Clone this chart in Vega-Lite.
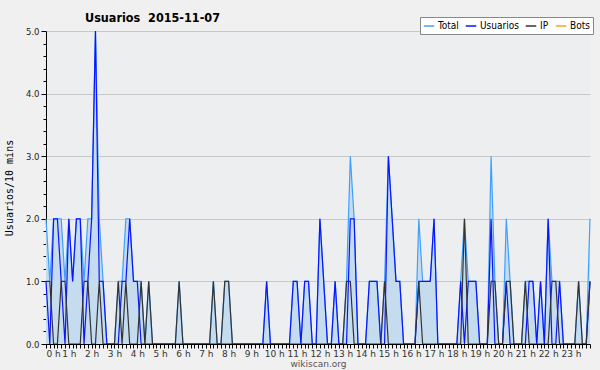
{
"$schema": "https://vega.github.io/schema/vega-lite/v6.json",
"width": 544, "height": 313,
"autosize": {"type": "none"},
"padding": {"left": 46, "top": 31, "right": 10, "bottom": 26},
"background": "#f0f0f0",
"config": {"view": {"fill": "#edeef0", "stroke": null}, "font": "DejaVu Sans"},
"title": {"text": "Usuarios\u00a0 2015-11-07", "anchor": "start", "frame": "group", "dx": 39, "dy": 17, "offset": 9, "font": "DejaVu Sans Condensed", "fontSize": 12.5, "fontWeight": "bold", "color": "#000"},
"data": {"values": [
{"t":0,"Total":2,"Usuarios":1,"IP":1,"Bots":0},{"t":10,"Total":1,"Usuarios":0,"IP":1,"Bots":0},{"t":20,"Total":2,"Usuarios":2,"IP":0,"Bots":0},{"t":30,"Total":2,"Usuarios":2,"IP":0,"Bots":0},{"t":40,"Total":2,"Usuarios":1,"IP":1,"Bots":0},{"t":50,"Total":1,"Usuarios":0,"IP":1,"Bots":0},{"t":60,"Total":2,"Usuarios":2,"IP":0,"Bots":0},{"t":70,"Total":1,"Usuarios":1,"IP":0,"Bots":0},{"t":80,"Total":2,"Usuarios":2,"IP":0,"Bots":0},{"t":90,"Total":2,"Usuarios":2,"IP":0,"Bots":0},
{"t":100,"Total":1,"Usuarios":0,"IP":1,"Bots":0},{"t":110,"Total":2,"Usuarios":1,"IP":1,"Bots":0},{"t":120,"Total":2,"Usuarios":2,"IP":0,"Bots":0},{"t":130,"Total":5,"Usuarios":5,"IP":0,"Bots":0},{"t":140,"Total":2,"Usuarios":1,"IP":1,"Bots":0},{"t":150,"Total":1,"Usuarios":1,"IP":0,"Bots":0},{"t":160,"Total":0,"Usuarios":0,"IP":0,"Bots":0},{"t":170,"Total":0,"Usuarios":0,"IP":0,"Bots":0},{"t":180,"Total":0,"Usuarios":0,"IP":0,"Bots":0},{"t":190,"Total":1,"Usuarios":0,"IP":1,"Bots":0},
{"t":200,"Total":1,"Usuarios":1,"IP":0,"Bots":0},{"t":210,"Total":2,"Usuarios":1,"IP":1,"Bots":0},{"t":220,"Total":2,"Usuarios":2,"IP":0,"Bots":0},{"t":230,"Total":1,"Usuarios":1,"IP":0,"Bots":0},{"t":240,"Total":1,"Usuarios":1,"IP":0,"Bots":0},{"t":250,"Total":1,"Usuarios":0,"IP":1,"Bots":0},{"t":260,"Total":0,"Usuarios":0,"IP":0,"Bots":0},{"t":270,"Total":1,"Usuarios":0,"IP":1,"Bots":0},{"t":280,"Total":0,"Usuarios":0,"IP":0,"Bots":0},{"t":290,"Total":0,"Usuarios":0,"IP":0,"Bots":0},
{"t":300,"Total":0,"Usuarios":0,"IP":0,"Bots":0},{"t":310,"Total":0,"Usuarios":0,"IP":0,"Bots":0},{"t":320,"Total":0,"Usuarios":0,"IP":0,"Bots":0},{"t":330,"Total":0,"Usuarios":0,"IP":0,"Bots":0},{"t":340,"Total":0,"Usuarios":0,"IP":0,"Bots":0},{"t":350,"Total":1,"Usuarios":0,"IP":1,"Bots":0},{"t":360,"Total":0,"Usuarios":0,"IP":0,"Bots":0},{"t":370,"Total":0,"Usuarios":0,"IP":0,"Bots":0},{"t":380,"Total":0,"Usuarios":0,"IP":0,"Bots":0},{"t":390,"Total":0,"Usuarios":0,"IP":0,"Bots":0},
{"t":400,"Total":0,"Usuarios":0,"IP":0,"Bots":0},{"t":410,"Total":0,"Usuarios":0,"IP":0,"Bots":0},{"t":420,"Total":0,"Usuarios":0,"IP":0,"Bots":0},{"t":430,"Total":0,"Usuarios":0,"IP":0,"Bots":0},{"t":440,"Total":1,"Usuarios":0,"IP":1,"Bots":0},{"t":450,"Total":0,"Usuarios":0,"IP":0,"Bots":0},{"t":460,"Total":0,"Usuarios":0,"IP":0,"Bots":0},{"t":470,"Total":1,"Usuarios":0,"IP":1,"Bots":0},{"t":480,"Total":1,"Usuarios":0,"IP":1,"Bots":0},{"t":490,"Total":0,"Usuarios":0,"IP":0,"Bots":0},
{"t":500,"Total":0,"Usuarios":0,"IP":0,"Bots":0},{"t":510,"Total":0,"Usuarios":0,"IP":0,"Bots":0},{"t":520,"Total":0,"Usuarios":0,"IP":0,"Bots":0},{"t":530,"Total":0,"Usuarios":0,"IP":0,"Bots":0},{"t":540,"Total":0,"Usuarios":0,"IP":0,"Bots":0},{"t":550,"Total":0,"Usuarios":0,"IP":0,"Bots":0},{"t":560,"Total":0,"Usuarios":0,"IP":0,"Bots":0},{"t":570,"Total":0,"Usuarios":0,"IP":0,"Bots":0},{"t":580,"Total":1,"Usuarios":1,"IP":0,"Bots":0},{"t":590,"Total":0,"Usuarios":0,"IP":0,"Bots":0},
{"t":600,"Total":0,"Usuarios":0,"IP":0,"Bots":0},{"t":610,"Total":0,"Usuarios":0,"IP":0,"Bots":0},{"t":620,"Total":0,"Usuarios":0,"IP":0,"Bots":0},{"t":630,"Total":0,"Usuarios":0,"IP":0,"Bots":0},{"t":640,"Total":0,"Usuarios":0,"IP":0,"Bots":0},{"t":650,"Total":1,"Usuarios":1,"IP":0,"Bots":0},{"t":660,"Total":1,"Usuarios":1,"IP":0,"Bots":0},{"t":670,"Total":0,"Usuarios":0,"IP":0,"Bots":0},{"t":680,"Total":1,"Usuarios":1,"IP":0,"Bots":0},{"t":690,"Total":1,"Usuarios":1,"IP":0,"Bots":0},
{"t":700,"Total":0,"Usuarios":0,"IP":0,"Bots":0},{"t":710,"Total":0,"Usuarios":0,"IP":0,"Bots":0},{"t":720,"Total":2,"Usuarios":2,"IP":0,"Bots":0},{"t":730,"Total":1,"Usuarios":1,"IP":0,"Bots":0},{"t":740,"Total":0,"Usuarios":0,"IP":0,"Bots":0},{"t":750,"Total":0,"Usuarios":0,"IP":0,"Bots":0},{"t":760,"Total":1,"Usuarios":1,"IP":0,"Bots":0},{"t":770,"Total":0,"Usuarios":0,"IP":0,"Bots":0},{"t":780,"Total":0,"Usuarios":0,"IP":0,"Bots":0},{"t":790,"Total":1,"Usuarios":0,"IP":1,"Bots":0},
{"t":800,"Total":3,"Usuarios":2,"IP":1,"Bots":0},{"t":810,"Total":2,"Usuarios":2,"IP":0,"Bots":0},{"t":820,"Total":0,"Usuarios":0,"IP":0,"Bots":0},{"t":830,"Total":0,"Usuarios":0,"IP":0,"Bots":0},{"t":840,"Total":0,"Usuarios":0,"IP":0,"Bots":0},{"t":850,"Total":1,"Usuarios":1,"IP":0,"Bots":0},{"t":860,"Total":1,"Usuarios":1,"IP":0,"Bots":0},{"t":870,"Total":1,"Usuarios":1,"IP":0,"Bots":0},{"t":880,"Total":0,"Usuarios":0,"IP":0,"Bots":0},{"t":890,"Total":1,"Usuarios":0,"IP":1,"Bots":0},
{"t":900,"Total":3,"Usuarios":3,"IP":0,"Bots":0},{"t":910,"Total":2,"Usuarios":2,"IP":0,"Bots":0},{"t":920,"Total":1,"Usuarios":1,"IP":0,"Bots":0},{"t":930,"Total":1,"Usuarios":1,"IP":0,"Bots":0},{"t":940,"Total":0,"Usuarios":0,"IP":0,"Bots":0},{"t":950,"Total":0,"Usuarios":0,"IP":0,"Bots":0},{"t":960,"Total":0,"Usuarios":0,"IP":0,"Bots":0},{"t":970,"Total":0,"Usuarios":0,"IP":0,"Bots":0},{"t":980,"Total":2,"Usuarios":1,"IP":1,"Bots":0},{"t":990,"Total":1,"Usuarios":1,"IP":0,"Bots":0},
{"t":1000,"Total":1,"Usuarios":1,"IP":0,"Bots":0},{"t":1010,"Total":1,"Usuarios":1,"IP":0,"Bots":0},{"t":1020,"Total":2,"Usuarios":2,"IP":0,"Bots":0},{"t":1030,"Total":0,"Usuarios":0,"IP":0,"Bots":0},{"t":1040,"Total":0,"Usuarios":0,"IP":0,"Bots":0},{"t":1050,"Total":0,"Usuarios":0,"IP":0,"Bots":0},{"t":1060,"Total":0,"Usuarios":0,"IP":0,"Bots":0},{"t":1070,"Total":0,"Usuarios":0,"IP":0,"Bots":0},{"t":1080,"Total":0,"Usuarios":0,"IP":0,"Bots":0},{"t":1090,"Total":1,"Usuarios":1,"IP":0,"Bots":0},
{"t":1100,"Total":2,"Usuarios":0,"IP":2,"Bots":0},{"t":1110,"Total":1,"Usuarios":1,"IP":0,"Bots":0},{"t":1120,"Total":1,"Usuarios":1,"IP":0,"Bots":0},{"t":1130,"Total":1,"Usuarios":1,"IP":0,"Bots":0},{"t":1140,"Total":0,"Usuarios":0,"IP":0,"Bots":0},{"t":1150,"Total":0,"Usuarios":0,"IP":0,"Bots":0},{"t":1160,"Total":0,"Usuarios":0,"IP":0,"Bots":0},{"t":1170,"Total":3,"Usuarios":2,"IP":1,"Bots":0},{"t":1180,"Total":1,"Usuarios":0,"IP":1,"Bots":0},{"t":1190,"Total":0,"Usuarios":0,"IP":0,"Bots":0},
{"t":1200,"Total":0,"Usuarios":0,"IP":0,"Bots":0},{"t":1210,"Total":2,"Usuarios":1,"IP":1,"Bots":0},{"t":1220,"Total":1,"Usuarios":0,"IP":1,"Bots":0},{"t":1230,"Total":0,"Usuarios":0,"IP":0,"Bots":0},{"t":1240,"Total":0,"Usuarios":0,"IP":0,"Bots":0},{"t":1250,"Total":0,"Usuarios":0,"IP":0,"Bots":0},{"t":1260,"Total":1,"Usuarios":0,"IP":1,"Bots":0},{"t":1270,"Total":1,"Usuarios":1,"IP":0,"Bots":0},{"t":1280,"Total":1,"Usuarios":1,"IP":0,"Bots":0},{"t":1290,"Total":0,"Usuarios":0,"IP":0,"Bots":0},
{"t":1300,"Total":1,"Usuarios":1,"IP":0,"Bots":0},{"t":1310,"Total":0,"Usuarios":0,"IP":0,"Bots":0},{"t":1320,"Total":2,"Usuarios":2,"IP":0,"Bots":0},{"t":1330,"Total":1,"Usuarios":0,"IP":1,"Bots":0},{"t":1340,"Total":1,"Usuarios":0,"IP":1,"Bots":0},{"t":1350,"Total":1,"Usuarios":1,"IP":0,"Bots":0},{"t":1360,"Total":0,"Usuarios":0,"IP":0,"Bots":0},{"t":1370,"Total":0,"Usuarios":0,"IP":0,"Bots":0},{"t":1380,"Total":0,"Usuarios":0,"IP":0,"Bots":0},{"t":1390,"Total":0,"Usuarios":0,"IP":0,"Bots":0},
{"t":1400,"Total":1,"Usuarios":0,"IP":1,"Bots":0},{"t":1410,"Total":0,"Usuarios":0,"IP":0,"Bots":0},{"t":1420,"Total":0,"Usuarios":0,"IP":0,"Bots":0},{"t":1430,"Total":2,"Usuarios":1,"IP":1,"Bots":0}
]},
"transform": [{"fold": ["Total", "Usuarios", "IP", "Bots"], "as": ["serie", "v"]}],
"encoding": {
  "x": {"field": "t", "type": "quantitative", "scale": {"domain": [0, 1430], "nice": false, "zero": false},
    "axis": {"values": [0,10,20,30,40,50,60,70,80,90,100,110,120,130,140,150,160,170,180,190,200,210,220,230,240,250,260,270,280,290,300,310,320,330,340,350,360,370,380,390,400,410,420,430,440,450,460,470,480,490,500,510,520,530,540,550,560,570,580,590,600,610,620,630,640,650,660,670,680,690,700,710,720,730,740,750,760,770,780,790,800,810,820,830,840,850,860,870,880,890,900,910,920,930,940,950,960,970,980,990,1000,1010,1020,1030,1040,1050,1060,1070,1080,1090,1100,1110,1120,1130,1140,1150,1160,1170,1180,1190,1200,1210,1220,1230,1240,1250,1260,1270,1280,1290,1300,1310,1320,1330,1340,1350,1360,1370,1380,1390,1400,1410,1420,1430],
      "labelExpr": "datum.value % 60 == 0 ? (datum.value / 60) + ' h' : ''",
      "labelOverlap": false, "labelBound": false, "labelFontSize": 9, "labelColor": "#333", "labelPadding": 1,
      "tickSize": 4, "tickColor": "#000", "domainColor": "#000", "grid": false, "zindex": 1,
      "title": "wikiscan.org", "titleFontSize": 9, "titleFontWeight": "normal", "titleColor": "#555", "titlePadding": 1}
  },
  "y": {"field": "v", "type": "quantitative", "scale": {"domain": [0, 5], "nice": false},
     "axis": {"values": [0,0.2,0.4,0.6,0.8,1,1.2,1.4,1.6,1.8,2,2.2,2.4,2.6,2.8,3,3.2,3.4,3.6,3.8,4,4.2,4.4,4.6,4.8,5],
       "labelExpr": "datum.value % 1 == 0 ? format(datum.value, '.1f') : ''",
       "labelOverlap": false, "labelBound": false,
       "labelFontSize": 8.5, "labelColor": "#222", "labelPadding": 2,
       "tickSize": {"condition": {"test": "datum.value % 1 == 0", "value": 5}, "value": 3},
       "tickColor": "#000", "domainColor": "#000",
       "grid": true, "gridColor": "#c8c8c8",
       "gridOpacity": {"condition": {"test": "datum.value % 1 == 0 && datum.value > 0", "value": 1}, "value": 0},
       "title": "Usuarios/10 mins", "titleFontSize": 10, "titleFontWeight": "normal", "titleFont": "DejaVu Sans Mono", "titleColor": "#000", "titlePadding": 11}}
},
"layer": [
  {"transform": [{"filter": "datum.serie == 'Bots'"}],
   "mark": {"type": "line", "strokeWidth": 1.2},
   "encoding": {"color": {"field": "serie", "type": "nominal",
     "scale": {"domain": ["Total", "Usuarios", "IP", "Bots"], "range": ["#40a0ff", "#0a14ff", "#333333", "#ffa020"]},
     "legend": {"title": null, "orient": "none", "legendX": 374, "legendY": -14, "direction": "horizontal",
       "symbolType": "stroke", "symbolSize": 110, "symbolStrokeWidth": 1.5, "labelFontSize": 10, "labelFont": "DejaVu Sans Condensed", "labelColor": "#000",
       "labelOffset": 3, "columnPadding": 3, "padding": 3, "fillColor": "#ffffff", "strokeColor": "#888888"}}}},
  {"transform": [{"filter": "datum.serie == 'Total'"}],
   "mark": {"type": "area", "color": "#c5dcef", "opacity": 1}},
  {"transform": [{"filter": "datum.serie == 'Total'"}],
   "mark": {"type": "line", "strokeWidth": 1.2},
   "encoding": {"color": {"field": "serie", "type": "nominal"}}},
  {"transform": [{"filter": "datum.serie == 'Usuarios'"}],
   "mark": {"type": "line", "strokeWidth": 1.2},
   "encoding": {"color": {"field": "serie", "type": "nominal"}}},
  {"transform": [{"filter": "datum.serie == 'IP'"}],
   "mark": {"type": "line", "strokeWidth": 1.2},
   "encoding": {"color": {"field": "serie", "type": "nominal"}}},
  {"data": {"values": [{"note": "CC BY-SA 3.0"}]},
   "mark": {"type": "text", "align": "right", "baseline": "middle", "dy": 20, "dx": 2, "fontSize": 6, "color": "#666"},
   "encoding": {"x": {"datum": 1430}, "y": {"datum": 0}, "text": {"field": "note"}}}
]
}
